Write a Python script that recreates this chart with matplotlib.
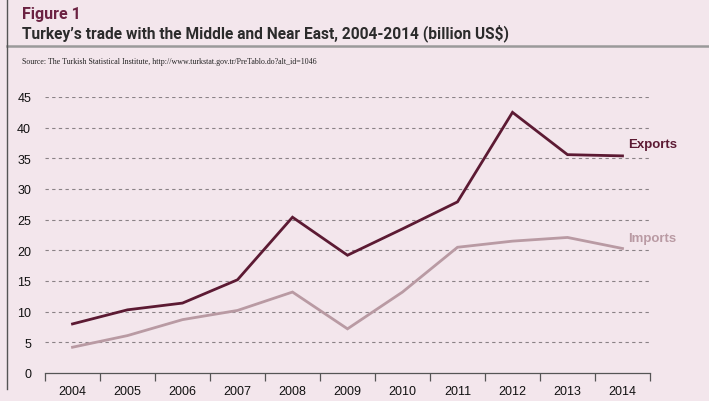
import matplotlib.pyplot as plt
import numpy as np

years = ["2004", "2005", "2006", "2007", "2008", "2009",
         "2010", "2011", "2012", "2013", "2014"]
exports = [8.0, 10.3, 11.4, 15.2, 25.4, 19.2, 23.5, 27.9, 42.5, 35.6, 35.4]
imports = [4.2, 6.1, 8.7, 10.2, 13.2, 7.2, 13.2, 20.5, 21.5, 22.1, 20.3]

bg = "#f3e6ec"
c_exp = "#5c1a33"
c_imp = "#b99aa3"
sans = ["Liberation Sans", "DejaVu Sans"]

fig = plt.figure(figsize=(7.09, 4.02), dpi=100, facecolor=bg)
W, H = 709, 402
ax = fig.add_axes([45 / W, 28 / H, 605 / W, 276 / H], facecolor=bg)

x = np.arange(len(years))
ax.plot(x, exports, color=c_exp, lw=2.0, solid_joinstyle="miter")
ax.plot(x, imports, color=c_imp, lw=2.0, solid_joinstyle="miter")

ax.set_xlim(-0.5, len(years) - 0.5)
ax.set_ylim(0, 45)
ax.set_yticks(range(0, 46, 5))
for v in range(5, 46, 5):
    ax.axhline(v, color="#8a8286", lw=0.8, ls=(0, (3, 3)), zorder=0)

ax.set_xticks(x)
ax.set_xticklabels(years)
ax.set_xticks(np.arange(-0.5, len(years), 1), minor=True)
ax.tick_params(axis="x", which="major", length=0, pad=9)
ax.tick_params(axis="x", which="minor", length=6, width=0.9, color="#555555", direction="out")
ax.tick_params(axis="y", length=0, pad=10)
for lab in ax.get_xticklabels() + ax.get_yticklabels():
    lab.set_family(sans)
    lab.set_fontsize(9)
    lab.set_color("#111111")

for s in ["top", "right", "left"]:
    ax.spines[s].set_visible(False)
ax.spines["bottom"].set_color("#555555")
ax.spines["bottom"].set_linewidth(0.9)

ax.text(10.1, 37.3, "Exports", color=c_exp, fontsize=9.5, va="center",
        fontweight="bold", family=sans)
ax.text(10.1, 22.0, "Imports", color=c_imp, fontsize=9.5, va="center",
        fontweight="bold", family=sans)

# header
fig.text(22 / W, 1 - 14 / H, "Figure 1", color="#6b2242", fontsize=11.5,
         fontweight="bold", family="Roboto", va="center")
fig.text(22 / W, 1 - 33 / H, "Turkey\u2019s trade with the Middle and Near East, 2004-2014 (billion US$)",
         color="#2b2b2b", fontsize=11.2, fontweight="bold", family="Roboto", va="center")
fig.text(22 / W, 1 - 62 / H,
         "Source: The Turkish Statistical Institute, http://www.turkstat.gov.tr/PreTablo.do?alt_id=1046",
         color="#222222", fontsize=5.7, family="Liberation Serif", va="center")

fig.add_artist(plt.Line2D([7 / W, 1], [1 - 47 / H, 1 - 47 / H], color="#9a9a9a", lw=1.8))
fig.add_artist(plt.Line2D([7 / W, 7 / W], [1, 1 - 390 / H], color="#555555", lw=1.0))

fig.savefig("out.png", dpi=100, facecolor=bg)
